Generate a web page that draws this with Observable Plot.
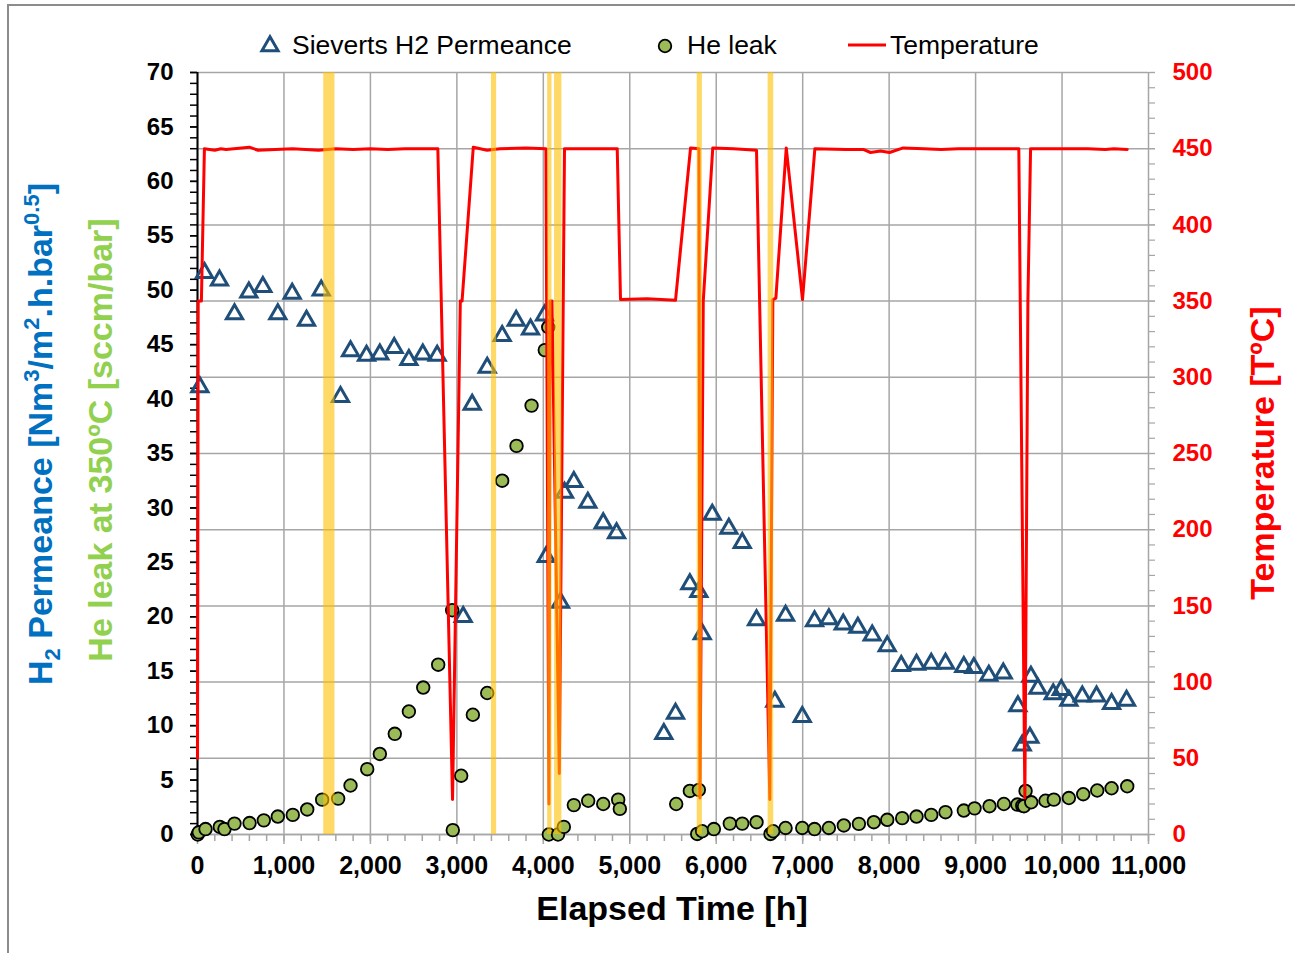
<!DOCTYPE html>
<html><head><meta charset="utf-8">
<script src="https://cdn.jsdelivr.net/npm/d3@7"></script>
<script src="https://cdn.jsdelivr.net/npm/@observablehq/plot@0.6"></script>
<style>
body{margin:0;background:#fff;}
#chart{position:absolute;left:0;top:0;}
#frame{position:absolute;left:7px;top:4px;width:1400px;height:1000px;border:2px solid #8c8c8c;pointer-events:none;}
</style></head><body>
<div id="chart"></div><div id="frame"></div>
<script>
// ---- data ----
const permHours = [27,81,254,428,594,756,929,1095,1261,1431,1654,1770,1955,2109,2275,2445,2606,2772,3073,3177,3351,3524,3686,3852,4014,4033,4199,4245,4353,4515,4693,4847,5394,5529,5695,5799,5838,5954,6146,6301,6466,6678,6802,6995,7137,7303,7469,7638,7804,7978,8140,8317,8487,8652,8864,8980,9153,9320,9489,9539,9628,9640,9720,9898,9991,10079,10234,10399,10573,10746];
const permValues = [41.1,51.6,50.9,47.8,49.8,50.3,47.8,49.7,47.2,50.0,40.2,44.4,44.0,44.1,44.7,43.6,44.1,44.0,20.0,39.5,42.9,45.8,47.2,46.4,47.7,25.5,21.3,31.4,32.4,30.5,28.6,27.7,9.25,11.1,23.0,22.3,18.4,29.4,28.1,26.8,19.7,12.2,20.1,10.8,19.6,19.8,19.3,19.0,18.3,17.3,15.5,15.6,15.7,15.7,15.4,15.3,14.6,14.8,11.8,8.2,8.9,14.5,13.4,12.9,13.3,12.3,12.7,12.7,12.0,12.3];

const leakHours = [3,15,93,258,312,428,602,767,929,1102,1269,1442,1627,1770,1963,2109,2282,2445,2611,2784,2946,2953,3050,3185,3351,3524,3690,3864,4017,4057,4064,4170,4237,4353,4519,4693,4866,4885,5537,5695,5799,5780,5838,5973,6157,6301,6466,6628,6659,6802,6995,7137,7303,7476,7650,7823,7978,8151,8317,8487,8652,8864,8988,9161,9327,9483,9540,9560,9578,9644,9809,9905,10079,10245,10407,10573,10754];
const leakValues = [0.0,0.2,0.5,0.7,0.5,1.0,1.05,1.3,1.65,1.8,2.3,3.2,3.3,4.5,6.0,7.4,9.25,11.3,13.5,15.6,20.6,0.4,5.4,11.0,13.0,32.5,35.7,39.4,44.5,46.6,0.0,0.0,0.7,2.7,3.1,2.8,3.2,2.35,2.8,4.0,4.1,0.05,0.3,0.5,1.0,1.0,1.13,0.05,0.3,0.6,0.6,0.5,0.6,0.83,0.98,1.13,1.35,1.5,1.65,1.8,2.05,2.2,2.4,2.6,2.8,2.75,2.65,2.6,4.0,2.96,3.1,3.2,3.35,3.7,4.04,4.25,4.43];

const tempHours = [0,8,45,80,200,270,330,600,700,900,1100,1400,1600,1800,2000,2200,2400,2780,2950,3040,3060,3190,3350,3500,3800,4030,4065,4078,4100,4185,4245,4855,4893,5200,5529,5703,5800,5812,5850,5960,6200,6466,6620,6655,6690,6810,6998,7141,7500,7700,7785,7900,8005,8163,8400,8600,8800,9000,9500,9570,9605,9636,10000,10300,10500,10600,10754];
const tempValues = [50,350,350,450,449,450,449.5,451,449,449.5,450,449,450,449.5,450,449.5,450,450,23,350,350,451,449,450,450.5,450,20,350,350,40,450,450,351,351.5,350.5,450.5,450,24,350,450.5,450,449,23,351,352,450.5,351,450,449.5,449.5,447.5,448.5,447.5,450.5,450,449.5,450,450,450,24,350,450,450,450,449.5,450,449.5];

const bandStart = [1460,3400,4050,4130,5780,6600];
const bandEnd   = [1590,3460,4100,4215,5840,6665];

const xTicks = d3.range(0, 11001, 1000);
const xMinorTicks = d3.range(0, 11001, 200);
const leftTicks = d3.range(0, 71, 5);
const leftMinorTicks = d3.range(0, 71, 1);
const rightTicks = d3.range(0, 501, 50);
const rightMinorTicks = d3.range(0, 501, 10);

// ---- build ----
const toLeft = t => t * 70 / 500;
const perm = permHours.map((h, i) => ({h, v: permValues[i]}));
const leak = leakHours.map((h, i) => ({h, v: leakValues[i]}));
const temp = tempHours.map((h, i) => ({h, v: toLeft(tempValues[i])}));
const bands = bandStart.map((s, i) => ({x1: s, x2: bandEnd[i]}));

const FF = "'Liberation Sans', Arial, sans-serif";
const GRID = "#a6a6a6";
const TRI_R = 6;

const plot = Plot.plot({
  width: 1295, height: 953,
  marginLeft: 197, marginRight: 147, marginTop: 72, marginBottom: 119,
  style: {fontFamily: FF, background: "white", color: "black"},
  x: {domain: [0, 11000]},
  y: {domain: [0, 70]},
  marks: [
    Plot.gridX({ticks: xTicks, stroke: GRID, strokeOpacity: 1, strokeWidth: 1.5}),
    Plot.gridY({ticks: rightTicks.map(toLeft), stroke: GRID, strokeOpacity: 1, strokeWidth: 1.5}),
    Plot.ruleY([0], {stroke: GRID, strokeWidth: 1.5}),
    Plot.ruleX([0], {stroke: "black", strokeWidth: 2}),
    // x axis
    Plot.axisX({ticks: xMinorTicks, tickSize: 7, stroke: GRID, strokeWidth: 1.5, tickFormat: () => "", label: null}),
    Plot.axisX({ticks: xTicks, tickSize: 10, tickPadding: 12, stroke: GRID, strokeWidth: 1.5, tickFormat: d3.format(","), fontSize: 25, fontWeight: "bold", fill: "black", label: null}),
    // left axis
    Plot.axisY({ticks: leftMinorTicks, tickSize: 7, stroke: "black", strokeWidth: 1.5, tickFormat: () => "", label: null}),
    Plot.axisY({ticks: leftTicks, tickSize: 7, tickPadding: 17, stroke: "black", strokeWidth: 1.5, fontSize: 24, fontWeight: "bold", fill: "black", label: null}),
    // right axis
    Plot.axisY({anchor: "right", ticks: rightMinorTicks.map(toLeft), tickSize: 6, stroke: GRID, strokeWidth: 1.2, tickFormat: () => "", label: null}),
    Plot.axisY({anchor: "right", ticks: rightTicks.map(toLeft), tickSize: 6, tickPadding: 18, stroke: GRID, strokeWidth: 1.2, tickFormat: d => String(Math.round(d * 500 / 70)), fontSize: 24, fontWeight: "bold", fill: "#FF0000", label: null}),
    // series
    Plot.dot(perm, {x: "h", y: "v", symbol: "triangle", r: TRI_R, stroke: "#1F4E79", strokeWidth: 3, fill: "none"}),
    Plot.dot(leak, {x: "h", y: "v", r: 6.3, fill: "#9BBB59", stroke: "black", strokeWidth: 1.8}),
    Plot.line(temp, {x: "h", y: "v", stroke: "#FF0000", strokeWidth: 3}),
    Plot.rectX(bands, {x1: "x1", x2: "x2", y1: 0, y2: 70, fill: "#FFC000", fillOpacity: 0.6})
  ]
});
document.getElementById("chart").appendChild(plot);

// ---- titles & legend ----
const s = d3.select(plot);
function title(x, y, rot, color) {
  return s.append("text")
    .attr("transform", `translate(${x},${y})` + (rot ? " rotate(-90)" : ""))
    .attr("text-anchor", "middle").attr("dy", "0.35em")
    .attr("font-family", FF).attr("font-size", 34).attr("font-weight", "bold")
    .attr("fill", color);
}
const t1 = title(52, 434, true, "#0070C0");
const parts = [["H",0,34],["2",8,22],[" Permeance [Nm",-8,34],["3",-13,22],["/m",13,34],["2",-13,22],[".h.bar",13,34],["0.5",-13,22],["]",13,34]];
parts.forEach(([txt, dy, fs]) => t1.append("tspan").attr("dy", dy).attr("font-size", fs).text(txt));
title(100, 440, true, "#92D050").text("He leak at 350ºC [sccm/bar]");
title(1262, 453, true, "#FF0000").text("Temperature [TºC]");
title(672, 908, false, "black").text("Elapsed Time [h]");

const lg = s.append("g").attr("font-family", FF).attr("font-size", 26.5).attr("fill", "black").attr("text-anchor", "start");
lg.append("path").attr("d", d3.symbol(d3.symbolTriangle, Math.PI * TRI_R * TRI_R)()).attr("transform", "translate(270,46)")
  .attr("fill", "none").attr("stroke", "#1F4E79").attr("stroke-width", 3);
lg.append("text").attr("x", 292).attr("y", 45).attr("dy", "0.35em").text("Sieverts H2 Permeance");
lg.append("circle").attr("cx", 665).attr("cy", 46).attr("r", 6.3).attr("fill", "#9BBB59").attr("stroke", "black").attr("stroke-width", 1.8);
lg.append("text").attr("x", 687).attr("y", 45).attr("dy", "0.35em").text("He leak");
lg.append("line").attr("x1", 848).attr("x2", 886).attr("y1", 45).attr("y2", 45).attr("stroke", "#FF0000").attr("stroke-width", 3);
lg.append("text").attr("x", 890).attr("y", 45).attr("dy", "0.35em").text("Temperature");
</script></body></html>
